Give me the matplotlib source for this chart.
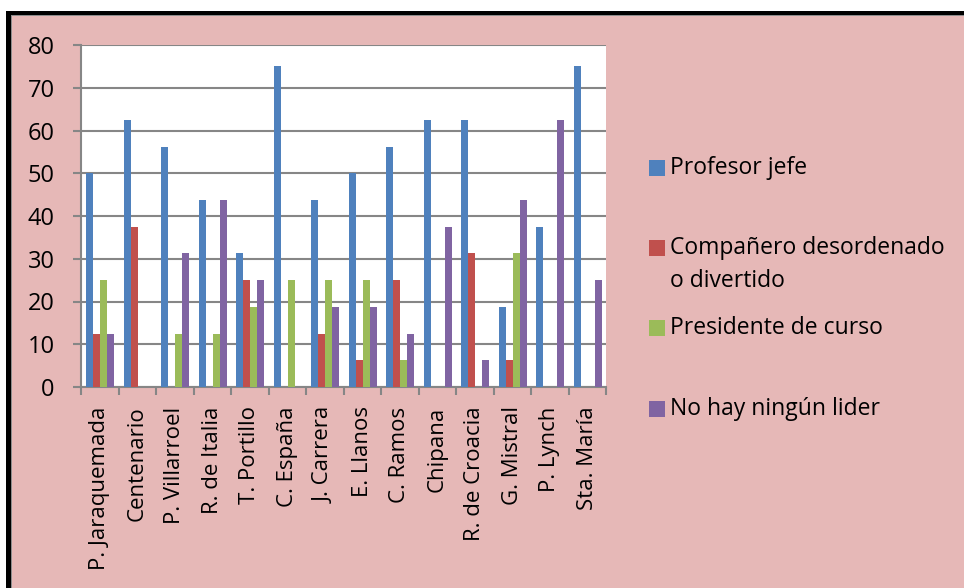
import matplotlib
matplotlib.use("Agg")
import matplotlib.pyplot as plt
from matplotlib.patches import Rectangle
import numpy as np

plt.rcParams['font.family'] = ['Open Sans', 'DejaVu Sans']

categories = ["P. Jaraquemada", "Centenario", "P. Villarroel", "R. de Italia",
              "T. Portillo", "C. España", "J. Carrera", "E. Llanos", "C. Ramos",
              "Chipana", "R. de Croacia", "G. Mistral", "P. Lynch", "Sta. María"]
profesor_jefe = [50, 62.5, 56.25, 43.75, 31.25, 75, 43.75, 50, 56.25, 62.5, 62.5, 18.75, 37.5, 75]
companero = [12.5, 37.5, 0, 0, 25, 0, 12.5, 6.25, 25, 0, 31.25, 6.25, 0, 0]
presidente = [25, 0, 12.5, 12.5, 18.75, 25, 25, 25, 6.25, 0, 0, 31.25, 0, 0]
ningun = [12.5, 0, 31.25, 43.75, 25, 0, 18.75, 18.75, 12.5, 37.5, 6.25, 43.75, 62.5, 25]
series_names = ["Profesor jefe", "Compañero desordenado\no divertido",
                "Presidente de curso", "No hay ningún lider"]
colors = ["#4F81BD", "#C0504D", "#9BBB59", "#8064A2"]
yticks = [0, 10, 20, 30, 40, 50, 60, 70, 80]

W, H = 964, 588
fig = plt.figure(figsize=(W / 100, H / 100), dpi=100)
fig.patch.set_facecolor("white")

def fx(px):
    return px / W

def fy(py):
    return 1 - py / H

# pink chart area and black frame
fig.patches.append(Rectangle((fx(11), 0), 1 - fx(11), fy(15), transform=fig.transFigure,
                             facecolor="#E6B8B7", edgecolor="none", zorder=-3))
fig.patches.append(Rectangle((fx(6), 0), fx(5), fy(11), transform=fig.transFigure,
                             facecolor="black", edgecolor="none", zorder=-2))
fig.patches.append(Rectangle((fx(6), fy(15)), 1 - fx(6), 4 / H, transform=fig.transFigure,
                             facecolor="black", edgecolor="none", zorder=-2))
fig.patches.append(Rectangle((fx(11), fy(16)), 1 - fx(11), 1 / H, transform=fig.transFigure,
                             facecolor="#8C8C8C", edgecolor="none", zorder=-2))
fig.patches.append(Rectangle((fx(11), 0), 1 / W, fy(15), transform=fig.transFigure,
                             facecolor="#8C8C8C", edgecolor="none", zorder=-2))

left, right, top, bottom = 81, 606, 45, 387
ax = fig.add_axes([fx(left), fy(bottom), fx(right) - fx(left), (bottom - top) / H])
ax.set_facecolor("white")
ax.set_zorder(1)

x = np.arange(len(categories))
bw = 0.187
data = [profesor_jefe, companero, presidente, ningun]
for i, (vals, c) in enumerate(zip(data, colors)):
    ax.bar(x + (i - 1.5) * bw + 0.017, vals, width=bw, color=c, zorder=3, linewidth=0)

ax.set_xlim(-0.5, len(categories) - 0.5)
ax.set_ylim(0, 80)
ax.set_yticks(yticks)
ax.set_yticklabels([str(v) for v in yticks], fontsize=17)
ax.yaxis.grid(True, color="#868686", linewidth=1.5, zorder=1)
ax.set_axisbelow(True)

ax.set_xticks(np.arange(-0.5, len(categories), 1.0))
ax.set_xticklabels([])
ax.set_xticks(x, minor=True)
ax.set_xticklabels(categories, minor=True, rotation=90, fontsize=16, va="top", ha="center")
ax.tick_params(axis="x", which="major", length=6, width=1.5, color="#868686")
ax.tick_params(axis="x", which="minor", length=0, pad=14)
ax.tick_params(axis="y", length=6, width=1.5, color="#868686", pad=13)

for s in ["top", "right"]:
    ax.spines[s].set_visible(False)
for s in ["left", "bottom"]:
    ax.spines[s].set_color("#868686")
    ax.spines[s].set_linewidth(1.5)

# legend
leg_y = [168, 248, 328, 409]
for name, c, yy in zip(series_names, colors, leg_y):
    fig.patches.append(Rectangle((fx(649), fy(yy + 8)), 16 / W, 16 / H, transform=fig.transFigure,
                                 facecolor=c, edgecolor="none", zorder=2))
    for k, line in enumerate(name.split("\n")):
        fig.text(fx(670), fy(yy + 33 * k), line, fontsize=16.5, va="center", ha="left")

fig.savefig("out.png", dpi=100, facecolor=fig.get_facecolor())
